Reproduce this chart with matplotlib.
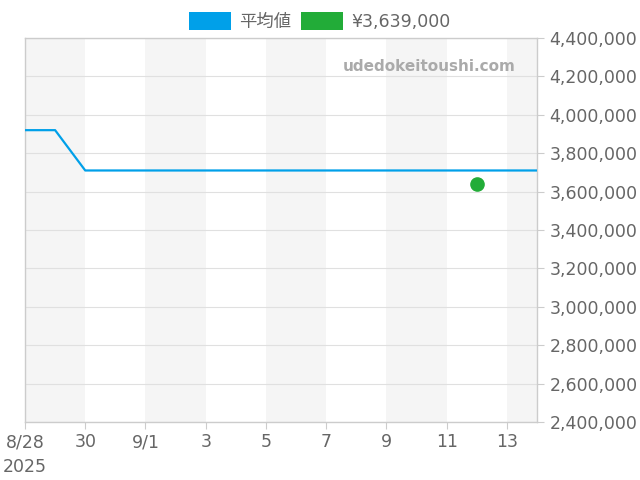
import matplotlib
matplotlib.use("Agg")
import matplotlib.pyplot as plt
import matplotlib.dates as mdates
from matplotlib.patches import Patch
import pandas as pd

plt.rcParams['font.family'] = ['DejaVu Sans', 'Noto Sans CJK JP']

dates = ["2025-08-28", "2025-08-29", "2025-08-30", "2025-08-31", "2025-09-01",
         "2025-09-02", "2025-09-03", "2025-09-04", "2025-09-05", "2025-09-06",
         "2025-09-07", "2025-09-08", "2025-09-09", "2025-09-10", "2025-09-11",
         "2025-09-12", "2025-09-13", "2025-09-14"]
avg_values = [3920000, 3920000, 3710000, 3710000, 3710000, 3710000, 3710000,
              3710000, 3710000, 3710000, 3710000, 3710000, 3710000, 3710000,
              3710000, 3710000, 3710000, 3710000]
point_date = ["2025-09-12"]
point_value = [3639000]
series_labels = ["平均値", "¥3,639,000"]
tick_dates = ["2025-08-28", "2025-08-30", "2025-09-01", "2025-09-03", "2025-09-05",
              "2025-09-07", "2025-09-09", "2025-09-11", "2025-09-13"]
tick_labels = ["8/28\n2025", "30", "9/1", "3", "5", "7", "9", "11", "13"]
band_starts = ["2025-08-28", "2025-09-01", "2025-09-05", "2025-09-09", "2025-09-13"]
y_ticks = [2400000, 2600000, 2800000, 3000000, 3200000, 3400000, 3600000,
           3800000, 4000000, 4200000, 4400000]

blue = "#00a0e9"
green = "#22ac38"
text_c = "#666666"

x = pd.to_datetime(dates)
fig = plt.figure(figsize=(6.4, 4.8), dpi=100)
ax = fig.add_axes([25/640, 1-422/480, 512/640, 384/480])

xmin, xmax = x[0], x[-1]
for s in pd.to_datetime(band_starts):
    e = min(s + pd.Timedelta(days=2), xmax)
    ax.axvspan(s, e, color="#f5f5f5", lw=0, zorder=0)

ax.plot(x, avg_values, color=blue, lw=1.6, zorder=3)
ax.plot(pd.to_datetime(point_date), point_value, 'o', color=green, ms=9.5, zorder=4)

ax.set_xlim(xmin, xmax)
ax.set_ylim(y_ticks[0], y_ticks[-1])
ax.set_yticks(y_ticks)
ax.set_yticklabels([f"{v:,}" for v in y_ticks])
ax.yaxis.tick_right()
ax.set_xticks(pd.to_datetime(tick_dates))
ax.set_xticklabels(tick_labels)
ax.get_xticklabels()[0].set_linespacing(1.5)
ax.grid(axis='y', color="#e0e0e0", lw=0.8, zorder=1)
ax.set_axisbelow(True)
for sp in ax.spines.values():
    sp.set_color("#cccccc")
    sp.set_linewidth(1)
ax.tick_params(axis='both', colors="#cccccc", labelcolor=text_c, labelsize=12.5, length=5)
ax.tick_params(axis='x', pad=3)
ax.tick_params(axis='y', pad=4)

ax.text(0.959, 0.927, "udedokeitoushi.com", transform=ax.transAxes, ha='right', va='center',
        fontsize=11, fontweight='bold', color="#aaaaaa")

handles = [Patch(facecolor=blue, edgecolor='none'), Patch(facecolor=green, edgecolor='none')]
leg = fig.legend(handles, series_labels, loc='upper center', bbox_to_anchor=(0.5, 1.008), ncol=2,
                 frameon=False, handlelength=2.42, handleheight=1.25,
                 handletextpad=0.46, columnspacing=0.57,
                 prop={'family': ['DejaVu Sans', 'Noto Sans CJK JP'], 'size': 12.5})
for t in leg.get_texts():
    t.set_color(text_c)

fig.savefig("out.png", dpi=100)
